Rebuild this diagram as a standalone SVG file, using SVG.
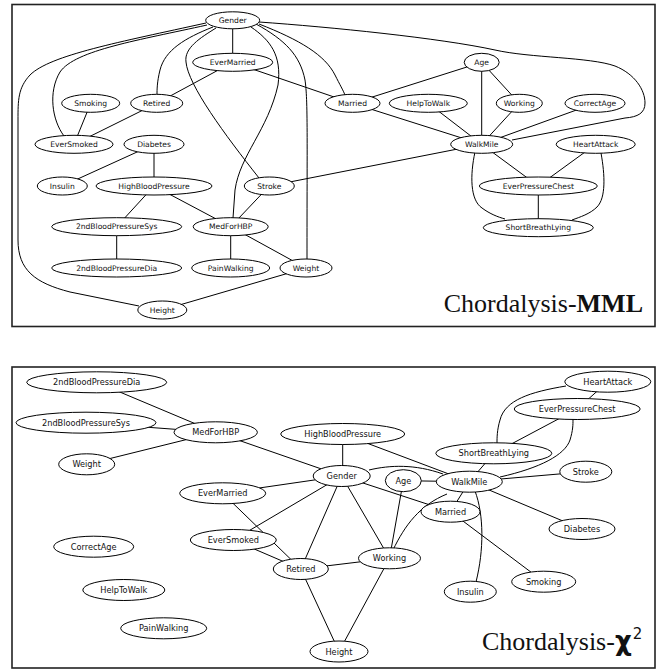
<svg xmlns="http://www.w3.org/2000/svg" width="662" height="671" viewBox="0 0 662 671">
<style>
.panel{fill:#fff;stroke:#222;stroke-width:1.6}
.e{stroke:#000;stroke-width:1;fill:none}
.n ellipse{fill:#fff;stroke:#000;stroke-width:1}
.t1{font-family:"DejaVu Sans",sans-serif;font-size:7.6px;text-anchor:middle;fill:#111}
.t2{font-family:"DejaVu Sans",sans-serif;font-size:8.2px;text-anchor:middle;fill:#111}
.title{font-family:"Liberation Serif","Times New Roman",serif;font-size:26px;fill:#111}
</style>
<rect class="panel" x="12" y="4.5" width="643" height="322"/>
<rect class="panel" x="12" y="367" width="643" height="301"/>

<g id="connectors-top">
<path class="e" d="M232.7,20 L232.7,62"/>
<path class="e" d="M213,27 C185,38 165,50 160,70 C157,82 157,90 157,95"/>
<path class="e" d="M207,25 C140,40 75,50 60,72 C48,92 52,120 64,136"/>
<path class="e" d="M206,23 C120,42 50,55 30,75 C18,88 18,100 18,120 L18,240 C18,270 35,283 70,292 L139,306"/>
<path class="e" d="M216,28 C200,38 184,48 186,62 C188,85 225,135 259,178"/>
<path class="e" d="M251,27 C270,40 282,55 278,85 C268,130 240,155 235,190 L233,218"/>
<path class="e" d="M256,24 C285,40 300,55 305,80 C308,100 307,140 307,259"/>
<path class="e" d="M259,24 C300,40 325,55 335,75 C340,85 343,90 345,95"/>
<path class="e" d="M259,22 C330,27 440,38 495,50 C530,58 590,57 615,66 C635,74 645,90 645,103 C645,113 638,117 625,118 L512,140"/>
<path class="e" d="M232.7,62.3 L156.7,103.3"/>
<path class="e" d="M232.7,62.3 L352.5,103.3"/>
<path class="e" d="M90.7,103.3 L74,144.3"/>
<path class="e" d="M156.7,103.3 L74,144.3"/>
<path class="e" d="M154,144.3 L62.3,186"/>
<path class="e" d="M154,144.3 L154,186"/>
<path class="e" d="M154,186 L116.7,226.7"/>
<path class="e" d="M154,186 L230.7,226.7"/>
<path class="e" d="M116.7,226.7 L116.7,268"/>
<path class="e" d="M230.7,226.7 L269.3,186"/>
<path class="e" d="M230.7,226.7 L230.7,268"/>
<path class="e" d="M230.7,226.7 L306,268"/>
<path class="e" d="M306,268 L162.3,310"/>
<path class="e" d="M269.3,186 L481.7,144.3"/>
<path class="e" d="M352.5,103.3 L481.7,144.3"/>
<path class="e" d="M352.5,103.3 L481.7,62.3"/>
<path class="e" d="M481.7,62.3 L481.7,144.3"/>
<path class="e" d="M481.7,62.3 L519.3,103.3"/>
<path class="e" d="M428.3,103.3 L481.7,144.3"/>
<path class="e" d="M519.3,103.3 L481.7,144.3"/>
<path class="e" d="M595,103.3 L481.7,144.3"/>
<path class="e" d="M481.7,144.3 L538.3,186"/>
<path class="e" d="M595.7,144.3 L538.3,186"/>
<path class="e" d="M538.3,186 L538.3,227.7"/>
<path class="e" d="M475,152 C470,175 470,200 482,208 C490,214 498,217 505,219"/>
<path class="e" d="M601,153 C605,175 606,198 597,207 C590,214 580,217 572,220"/>
</g>

<g id="n-top-Gender" class="n"><ellipse cx="232.7" cy="20.3" rx="27" ry="8.5"/><text class="t1" x="232.7" y="23">Gender</text></g>
<g id="n-top-EverMarried" class="n"><ellipse cx="232.7" cy="62.3" rx="40" ry="9"/><text class="t1" x="232.7" y="65">EverMarried</text></g>
<g id="n-top-Smoking" class="n"><ellipse cx="90.7" cy="103.3" rx="29" ry="9"/><text class="t1" x="90.7" y="106">Smoking</text></g>
<g id="n-top-Retired" class="n"><ellipse cx="156.7" cy="103.3" rx="26" ry="9"/><text class="t1" x="156.7" y="106">Retired</text></g>
<g id="n-top-EverSmoked" class="n"><ellipse cx="74" cy="144.3" rx="39" ry="9"/><text class="t1" x="74" y="147">EverSmoked</text></g>
<g id="n-top-Diabetes" class="n"><ellipse cx="154" cy="144.3" rx="30" ry="9"/><text class="t1" x="154" y="147">Diabetes</text></g>
<g id="n-top-Married" class="n"><ellipse cx="352.5" cy="103.3" rx="27.5" ry="9"/><text class="t1" x="352.5" y="106">Married</text></g>
<g id="n-top-HelpToWalk" class="n"><ellipse cx="428.3" cy="103.3" rx="39" ry="9"/><text class="t1" x="428.3" y="106">HelpToWalk</text></g>
<g id="n-top-Age" class="n"><ellipse cx="481.7" cy="62.3" rx="17.5" ry="9"/><text class="t1" x="481.7" y="65">Age</text></g>
<g id="n-top-Working" class="n"><ellipse cx="519.3" cy="103.3" rx="23" ry="9"/><text class="t1" x="519.3" y="106">Working</text></g>
<g id="n-top-CorrectAge" class="n"><ellipse cx="595" cy="103.3" rx="30" ry="9"/><text class="t1" x="595" y="106">CorrectAge</text></g>
<g id="n-top-WalkMile" class="n"><ellipse cx="481.7" cy="144.3" rx="31" ry="9"/><text class="t1" x="481.7" y="147">WalkMile</text></g>
<g id="n-top-HeartAttack" class="n"><ellipse cx="595.7" cy="144.3" rx="39.5" ry="9"/><text class="t1" x="595.7" y="147">HeartAttack</text></g>
<g id="n-top-Insulin" class="n"><ellipse cx="62.3" cy="186" rx="25" ry="9"/><text class="t1" x="62.3" y="188.7">Insulin</text></g>
<g id="n-top-HighBloodPressure" class="n"><ellipse cx="154" cy="186" rx="58" ry="9"/><text class="t1" x="154" y="188.7">HighBloodPressure</text></g>
<g id="n-top-Stroke" class="n"><ellipse cx="269.3" cy="186" rx="25" ry="9"/><text class="t1" x="269.3" y="188.7">Stroke</text></g>
<g id="n-top-EverPressureChest" class="n"><ellipse cx="538.3" cy="186" rx="59" ry="9"/><text class="t1" x="538.3" y="188.7">EverPressureChest</text></g>
<g id="n-top-2ndBloodPressureSys" class="n"><ellipse cx="116.7" cy="226.7" rx="65" ry="9"/><text class="t1" x="116.7" y="229.4">2ndBloodPressureSys</text></g>
<g id="n-top-MedForHBP" class="n"><ellipse cx="230.7" cy="226.7" rx="37.5" ry="9"/><text class="t1" x="230.7" y="229.4">MedForHBP</text></g>
<g id="n-top-ShortBreathLying" class="n"><ellipse cx="538.3" cy="227.7" rx="55" ry="9"/><text class="t1" x="538.3" y="230.4">ShortBreathLying</text></g>
<g id="n-top-2ndBloodPressureDia" class="n"><ellipse cx="116.7" cy="268" rx="65" ry="9"/><text class="t1" x="116.7" y="270.7">2ndBloodPressureDia</text></g>
<g id="n-top-PainWalking" class="n"><ellipse cx="230.7" cy="268" rx="39" ry="9"/><text class="t1" x="230.7" y="270.7">PainWalking</text></g>
<g id="n-top-Weight" class="n"><ellipse cx="306" cy="268" rx="26" ry="9"/><text class="t1" x="306" y="270.7">Weight</text></g>
<g id="n-top-Height" class="n"><ellipse cx="162.3" cy="310" rx="24.5" ry="9"/><text class="t1" x="162.3" y="312.7">Height</text></g>

<text class="title" x="643" y="311.5" text-anchor="end">Chordalysis-<tspan font-weight="bold">MML</tspan></text>

<g id="connectors-bottom">
<path class="e" d="M96.7,382.3 L215.7,432.3"/>
<path class="e" d="M86,422.7 L215.7,432.3"/>
<path class="e" d="M86.7,464.3 L215.7,432.3"/>
<path class="e" d="M215.7,432.3 L341.7,476"/>
<path class="e" d="M342.7,434 L342.7,476"/>
<path class="e" d="M342.7,434 L469.3,481.7"/>
<path class="e" d="M369,470 C390,465 415,464 443,474"/>
<path class="e" d="M341.7,476 L222.7,493.3"/>
<path class="e" d="M341.7,476 L233.3,540"/>
<path class="e" d="M341.7,476 L300.8,569"/>
<path class="e" d="M341.7,476 L389.5,558.3"/>
<path class="e" d="M341.7,476 L450.5,511.7"/>
<path class="e" d="M403.3,480.7 L469.3,481.7"/>
<path class="e" d="M403.3,480.7 L389.5,558.3"/>
<path class="e" d="M393,550 C405,525 420,505 447,494"/>
<path class="e" d="M469.3,481.7 L450.5,511.7"/>
<path class="e" d="M475,491 C484,515 484,550 476,582"/>
<path class="e" d="M469.3,481.7 L582,529"/>
<path class="e" d="M469.3,481.7 L585.8,471.7"/>
<path class="e" d="M469.3,481.7 L493.8,453.3"/>
<path class="e" d="M500,477 C540,468 565,455 570,440 C573,430 573,425 573,419"/>
<path class="e" d="M566,386 C530,392 505,400 500,420 C497,430 497,438 497,443"/>
<path class="e" d="M607.8,381.7 L577.2,409"/>
<path class="e" d="M577.2,409 L493.8,453.3"/>
<path class="e" d="M450.5,511.7 L543.7,581.7"/>
<path class="e" d="M222.7,493.3 L300.8,569"/>
<path class="e" d="M233.3,540 L300.8,569"/>
<path class="e" d="M300.8,569 L389.5,558.3"/>
<path class="e" d="M300.8,569 L339,651.5"/>
<path class="e" d="M389.5,558.3 L339,651.5"/>
</g>

<g id="n-bot-2ndBloodPressureDia" class="n"><ellipse cx="96.7" cy="382.3" rx="70" ry="10.5"/><text class="t2" x="96.7" y="385.3">2ndBloodPressureDia</text></g>
<g id="n-bot-2ndBloodPressureSys" class="n"><ellipse cx="86" cy="422.7" rx="70" ry="10.5"/><text class="t2" x="86" y="425.7">2ndBloodPressureSys</text></g>
<g id="n-bot-MedForHBP" class="n"><ellipse cx="215.7" cy="432.3" rx="41.7" ry="10.5"/><text class="t2" x="215.7" y="435.3">MedForHBP</text></g>
<g id="n-bot-Weight" class="n"><ellipse cx="86.7" cy="464.3" rx="28" ry="10.5"/><text class="t2" x="86.7" y="467.3">Weight</text></g>
<g id="n-bot-EverMarried" class="n"><ellipse cx="222.7" cy="493.3" rx="43" ry="10.5"/><text class="t2" x="222.7" y="496.3">EverMarried</text></g>
<g id="n-bot-HighBloodPressure" class="n"><ellipse cx="342.7" cy="434" rx="62" ry="10.5"/><text class="t2" x="342.7" y="437">HighBloodPressure</text></g>
<g id="n-bot-Gender" class="n"><ellipse cx="341.7" cy="476" rx="28.5" ry="10.5"/><text class="t2" x="341.7" y="479">Gender</text></g>
<g id="n-bot-Age" class="n"><ellipse cx="403.3" cy="480.7" rx="18" ry="11"/><text class="t2" x="403.3" y="483.7">Age</text></g>
<g id="n-bot-WalkMile" class="n"><ellipse cx="469.3" cy="481.7" rx="33" ry="10.5"/><text class="t2" x="469.3" y="484.7">WalkMile</text></g>
<g id="n-bot-Married" class="n"><ellipse cx="450.5" cy="511.7" rx="29.5" ry="10.5"/><text class="t2" x="450.5" y="514.7">Married</text></g>
<g id="n-bot-EverSmoked" class="n"><ellipse cx="233.3" cy="540" rx="43" ry="10.5"/><text class="t2" x="233.3" y="543">EverSmoked</text></g>
<g id="n-bot-Retired" class="n"><ellipse cx="300.8" cy="569" rx="27.5" ry="10.5"/><text class="t2" x="300.8" y="572">Retired</text></g>
<g id="n-bot-Working" class="n"><ellipse cx="389.5" cy="558.3" rx="31" ry="10.5"/><text class="t2" x="389.5" y="561.3">Working</text></g>
<g id="n-bot-Insulin" class="n"><ellipse cx="470.3" cy="591.7" rx="26" ry="10.5"/><text class="t2" x="470.3" y="594.7">Insulin</text></g>
<g id="n-bot-Smoking" class="n"><ellipse cx="543.7" cy="581.7" rx="32" ry="10.5"/><text class="t2" x="543.7" y="584.7">Smoking</text></g>
<g id="n-bot-Diabetes" class="n"><ellipse cx="582" cy="529" rx="33" ry="10.5"/><text class="t2" x="582" y="532">Diabetes</text></g>
<g id="n-bot-Height" class="n"><ellipse cx="339" cy="651.5" rx="29" ry="10.5"/><text class="t2" x="339" y="654.5">Height</text></g>
<g id="n-bot-CorrectAge" class="n"><ellipse cx="93.7" cy="546.7" rx="40" ry="10.5"/><text class="t2" x="93.7" y="549.7">CorrectAge</text></g>
<g id="n-bot-HelpToWalk" class="n"><ellipse cx="123.8" cy="590" rx="41" ry="10.5"/><text class="t2" x="123.8" y="593">HelpToWalk</text></g>
<g id="n-bot-PainWalking" class="n"><ellipse cx="163.7" cy="628.3" rx="43" ry="10.5"/><text class="t2" x="163.7" y="631.3">PainWalking</text></g>
<g id="n-bot-HeartAttack" class="n"><ellipse cx="607.8" cy="381.7" rx="43" ry="10.5"/><text class="t2" x="607.8" y="384.7">HeartAttack</text></g>
<g id="n-bot-EverPressureChest" class="n"><ellipse cx="577.2" cy="409" rx="63" ry="10.5"/><text class="t2" x="577.2" y="412">EverPressureChest</text></g>
<g id="n-bot-ShortBreathLying" class="n"><ellipse cx="493.8" cy="453.3" rx="58" ry="10.5"/><text class="t2" x="493.8" y="456.3">ShortBreathLying</text></g>
<g id="n-bot-Stroke" class="n"><ellipse cx="585.8" cy="471.7" rx="26" ry="10.5"/><text class="t2" x="585.8" y="474.7">Stroke</text></g>

<text class="title" x="482" y="650">Chordalysis-<tspan font-family="'DejaVu Sans',sans-serif" font-weight="bold">χ</tspan><tspan font-family="'DejaVu Sans',sans-serif" font-size="15" dx="1" dy="-11">2</tspan></text>
</svg>
